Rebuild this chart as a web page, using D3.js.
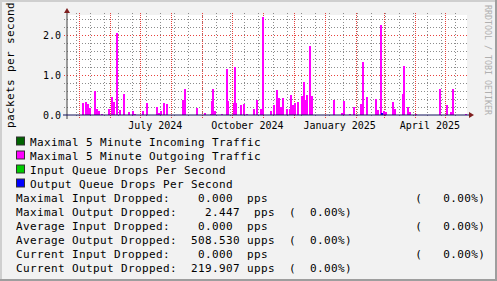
<!DOCTYPE html>
<html>
<head>
<meta charset="utf-8">
<script src="https://cdn.jsdelivr.net/npm/d3@7"></script>
<style>
  body { margin: 0; background: #f2f2f2; }
  text { font-family: "DejaVu Sans Mono", monospace; }
</style>
</head>
<body>
<svg id="chart" width="497" height="281"></svg>
<script>
// time range of the graph (one pixel is about one day)
var startDate = "2024-04-19";
var endDate = "2025-05-23";

// outgoing traffic, filled bars (two day buckets)
var outDates = [
  "2024-05-04", "2024-05-07", "2024-05-09", "2024-05-11", "2024-05-16", "2024-05-18",
  "2024-05-20", "2024-05-23", "2024-05-30", "2024-06-02", "2024-06-04", "2024-06-07",
  "2024-06-10", "2024-06-14", "2024-06-19", "2024-06-23", "2024-06-25", "2024-07-03",
  "2024-07-07", "2024-07-17", "2024-07-19", "2024-07-24", "2024-07-27", "2024-08-12",
  "2024-08-14", "2024-09-03", "2024-09-09", "2024-09-11", "2024-09-13", "2024-09-20",
  "2024-09-25", "2024-10-03", "2024-10-09", "2024-10-12", "2024-10-15", "2024-10-22",
  "2024-10-25", "2024-10-31", "2024-11-07", "2024-11-10", "2024-11-13", "2024-11-15",
  "2024-11-19", "2024-11-23", "2024-11-27", "2024-12-01", "2024-12-04", "2024-12-08",
  "2024-12-10", "2024-12-13", "2024-12-16", "2024-12-18", "2025-01-09", "2025-01-17",
  "2025-01-19", "2025-01-25", "2025-01-29", "2025-02-05", "2025-02-07", "2025-02-11",
  "2025-02-20", "2025-02-22", "2025-02-25", "2025-02-28", "2025-03-02", "2025-03-09",
  "2025-03-11", "2025-03-20", "2025-03-24", "2025-03-26", "2025-04-01", "2025-04-25",
  "2025-05-02", "2025-05-06", "2025-05-08", "2025-05-21"
];
var outValues = [
  0.30, 0.33, 0.28, 0.12, 0.60, 0.15,
  0.10, 0.03, 0.15, 0.45, 0.33, 2.05,
  0.12, 0.52, 0.08, 0.10, 0.03, 0.10,
  0.30, 0.20, 0.06, 0.30, 0.28, 0.38,
  0.65, 0.05, 0.03, 0.65, 0.10, 0.03,
  1.15, 1.20, 0.25, 0.28, 0.03, 0.15,
  0.38, 2.447, 0.10, 0.25, 0.62, 0.42,
  0.42, 0.15, 0.50, 0.20, 0.33, 0.48,
  0.82, 0.50, 1.73, 0.48, 0.38, 0.05,
  0.35, 0.03, 0.20, 0.27, 1.33, 0.45,
  0.40, 0.12, 2.25, 0.10, 0.08, 0.33,
  0.15, 1.23, 0.20, 0.08, 0.03, 0.65,
  0.25, 0.08, 0.65, 0.03
];

// maximal outgoing traffic where it rises above the bars (drawn as a line)
var peakDates = [
  "2024-05-11", "2024-07-21", "2024-08-26", "2024-09-10", "2024-09-26", "2024-10-02",
  "2024-10-04", "2024-10-29", "2024-11-17", "2024-11-26", "2024-11-29", "2024-12-01",
  "2024-12-12", "2025-03-19"
];
var peakValues = [
  0.18, 0.10, 0.18, 0.35, 0.35, 0.30,
  0.30, 0.15, 0.20, 0.15, 0.25, 0.30,
  0.38, 0.53
];

// output queue drops (blue)
var dropDates = ["2025-02-26"];
var dropValues = [0.05];

var legendNames = [
  "Maximal 5 Minute Incoming Traffic",
  "Maximal 5 Minute Outgoing Traffic",
  "Input Queue Drops Per Second",
  "Output Queue Drops Per Second"
];
var legendColors = ["#006400", "#ff00ff", "#00cc00", "#0000ff"];

var statLabels = [
  "Maximal Input Dropped:", "Maximal Output Dropped:",
  "Average Input Dropped:", "Average Output Dropped:",
  "Current Input Dropped:", "Current Output Dropped:"
];
var statValues = ["0.000", "2.447", "0.000", "508.530", "0.000", "219.907"];
var statUnits = ["pps", "pps", "pps", "upps", "pps", "upps"];
var statPercents = ["0.00%", "0.00%", "0.00%", "0.00%", "0.00%", "0.00%"];

var yTicks = [0, 1, 2];

var W = 497, H = 281;
var plot = {left: 67, right: 467, top: 15, bottom: 115};
var parse = d3.timeParse("%Y-%m-%d");

var svg = d3.select("#chart");

var x = d3.scaleTime()
  .domain([parse(startDate), parse(endDate)])
  .range([plot.left, plot.right]);
var y = d3.scaleLinear()
  .domain([0, 2.5])
  .range([plot.bottom, plot.top]);

// background and 3d frame
svg.append("rect").attr("width", W).attr("height", H).attr("fill", "#f2f2f2");
svg.append("path").attr("d", "M0,1H" + W + "M1,0V" + H)
  .attr("stroke", "#cfcfcf").attr("stroke-width", 2);
svg.append("path").attr("d", "M0," + (H - 1) + "H" + W + "M" + (W - 1) + ",0V" + H)
  .attr("stroke", "#9e9e9e").attr("stroke-width", 2);

svg.append("rect")
  .attr("x", plot.left).attr("y", plot.top)
  .attr("width", plot.right - plot.left).attr("height", plot.bottom - plot.top)
  .attr("fill", "#ffffff");

// grid
var grid = svg.append("g").attr("shape-rendering", "crispEdges");
var minorX = d3.timeDay.range(parse("2024-04-28"), x.domain()[1], 14);
var majorX = d3.timeMonth.range(x.domain()[0], x.domain()[1]);

grid.selectAll(".hmin").data(y.ticks(12).filter(function(d) { return d > 0; }))
  .enter().append("line")
  .attr("x1", plot.left - 3).attr("x2", plot.right)
  .attr("y1", function(d) { return Math.round(y(d)) + 0.5; })
  .attr("y2", function(d) { return Math.round(y(d)) + 0.5; })
  .attr("stroke", "#8c8c8c").attr("stroke-dasharray", "1,2");

grid.selectAll(".vmin").data(minorX)
  .enter().append("line")
  .attr("x1", function(d) { return Math.round(x(d)) + 0.5; })
  .attr("x2", function(d) { return Math.round(x(d)) + 0.5; })
  .attr("y1", plot.top - 2).attr("y2", plot.bottom + 3)
  .attr("stroke", "#8c8c8c").attr("stroke-dasharray", "1,2");

grid.selectAll(".hmaj").data(y.ticks(3).filter(function(d) { return d > 0; }))
  .enter().append("line")
  .attr("x1", plot.left - 3).attr("x2", plot.right)
  .attr("y1", function(d) { return Math.round(y(d)) + 0.5; })
  .attr("y2", function(d) { return Math.round(y(d)) + 0.5; })
  .attr("stroke", "#e8413c").attr("stroke-dasharray", "1,2");

grid.selectAll(".vmaj").data(majorX)
  .enter().append("line")
  .attr("x1", function(d) { return Math.round(x(d)) + 0.5; })
  .attr("x2", function(d) { return Math.round(x(d)) + 0.5; })
  .attr("y1", plot.top - 2).attr("y2", plot.bottom + 3)
  .attr("stroke", "#e8413c").attr("stroke-dasharray", "1,1");

// bars
function bucketEnd(d) { return d3.timeDay.offset(d, 2); }

var outData = outDates.map(function(d, i) { return {date: parse(d), value: outValues[i]}; });
var peakData = peakDates.map(function(d, i) { return {date: parse(d), value: peakValues[i]}; });
var dropData = dropDates.map(function(d, i) { return {date: parse(d), value: dropValues[i]}; });

svg.append("g").attr("shape-rendering", "crispEdges")
  .selectAll("rect").data(outData).enter().append("rect")
  .attr("x", function(d) { return Math.round(x(d.date)); })
  .attr("width", function(d) { return Math.round(x(bucketEnd(d.date))) - Math.round(x(d.date)); })
  .attr("y", function(d) { return Math.round(y(d.value)); })
  .attr("height", function(d) { return plot.bottom - Math.round(y(d.value)); })
  .attr("fill", "#ff00ff");

svg.append("g").attr("shape-rendering", "crispEdges")
  .selectAll("path").data(peakData).enter().append("path")
  .attr("d", function(d) {
    var x0 = Math.round(x(d.date)) + 0.5, x1 = Math.round(x(bucketEnd(d.date))) - 0.5;
    var yv = Math.round(y(d.value)) + 0.5;
    return "M" + x0 + "," + plot.bottom + "V" + yv + "H" + x1 + "V" + plot.bottom;
  })
  .attr("fill", "none").attr("stroke", "#ff00ff");

svg.append("g").attr("shape-rendering", "crispEdges")
  .selectAll("rect").data(dropData).enter().append("rect")
  .attr("x", function(d) { return Math.round(x(d.date)); })
  .attr("width", 2)
  .attr("y", function(d) { return Math.round(y(d.value)); })
  .attr("height", function(d) { return plot.bottom - Math.round(y(d.value)); })
  .attr("fill", "#0000ff");

// axes
svg.append("line")
  .attr("x1", plot.left).attr("x2", plot.left)
  .attr("y1", plot.top - 2).attr("y2", plot.bottom + 4)
  .attr("stroke", "#404040");
svg.append("line")
  .attr("x1", plot.left - 4).attr("x2", plot.right + 2)
  .attr("y1", plot.bottom).attr("y2", plot.bottom)
  .attr("stroke", "#10105a");
svg.append("path")
  .attr("d", "M" + plot.left + "," + (plot.top - 7) + "l-3,5h6z")
  .attr("fill", "#7f1f1f");
svg.append("path")
  .attr("d", "M" + (plot.right + 7) + "," + plot.bottom + "l-5,-3v6z")
  .attr("fill", "#7f1f1f");

svg.selectAll(".ylab").data(yTicks).enter().append("text")
  .attr("x", plot.left - 6)
  .attr("y", function(d) { return y(d) + 3.6; })
  .attr("text-anchor", "end")
  .attr("font-size", "10px")
  .attr("fill", "#000")
  .text(function(d) { return d3.format(".1f")(d); });

// month labels sit in the middle of their month
var labelMonths = d3.timeMonth.every(3).range(x.domain()[0], x.domain()[1]);
svg.selectAll(".xlab").data(labelMonths).enter().append("text")
  .attr("x", function(d) { return x(d3.timeDay.offset(d, 15)); })
  .attr("y", plot.bottom + 13.5)
  .attr("text-anchor", "middle")
  .attr("font-size", "10px")
  .attr("fill", "#000")
  .text(d3.timeFormat("%B %Y"));

svg.append("text")
  .attr("transform", "translate(13.5," + ((plot.top + plot.bottom) / 2) + ") rotate(-90)")
  .attr("text-anchor", "middle")
  .attr("font-size", "11px")
  .attr("letter-spacing", "0.38px")
  .text("packets per second");

svg.append("text")
  .attr("transform", "translate(485," + 60 + ") rotate(90)")
  .attr("text-anchor", "middle")
  .attr("font-size", "8.3px")
  .attr("fill", "#b0b0b0")
  .text("RRDTOOL / TOBI OETIKER");

// legend
var legend = svg.append("g");
legendNames.forEach(function(name, i) {
  var by = 145.5 + i * 14;
  legend.append("rect")
    .attr("x", 16.5).attr("y", by - 8.5).attr("width", 8).attr("height", 8)
    .attr("fill", legendColors[i]).attr("stroke", "#303030");
  legend.append("text")
    .attr("x", 30).attr("y", by)
    .attr("font-size", "11px").attr("letter-spacing", "0.38px")
    .text(name);
});

statLabels.forEach(function(label, i) {
  var line = label + statValues[i].padStart(9) + " " + statUnits[i].padStart(4);
  if (label.indexOf("Input") >= 0) {
    line = line.padEnd(57) + "(   " + statPercents[i] + ")";
  } else {
    line = line + "  (  " + statPercents[i] + ")";
  }
  legend.append("text")
    .attr("x", 16).attr("y", 145.5 + (i + 4) * 14)
    .attr("font-size", "11px").attr("letter-spacing", "0.38px")
    .style("white-space", "pre")
    .text(line);
});
</script>
</body>
</html>
